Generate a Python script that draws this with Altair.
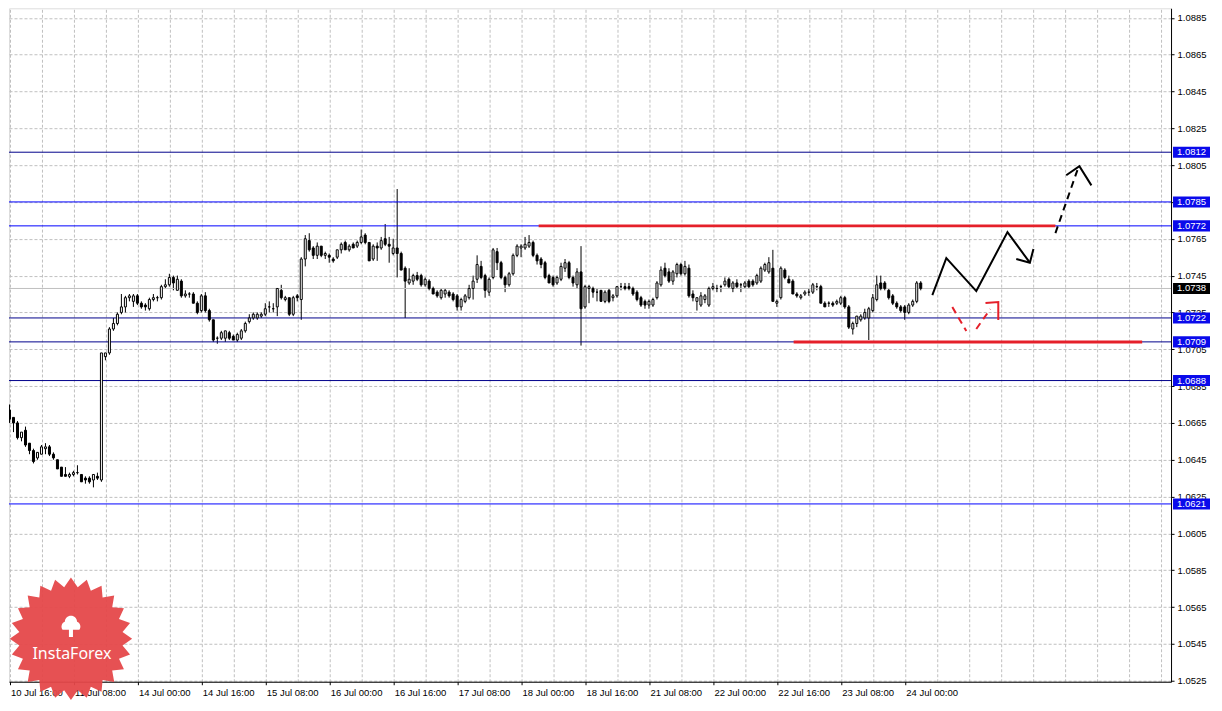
import altair as alt
import pandas as pd
import numpy as np

# ---------------- data (EURUSD H1, bar index 0 = 10 Jul 16:00) ----------------
bar_idx = list(range(-2, 229))
opens = [1.0661,1.0672,1.0672,1.0668,1.0665,1.0657,1.0661,1.0654,1.0650,1.0646,1.0648,1.0651,1.0652,1.0648,1.0645,1.0641,1.0637,1.0636,1.0637,1.0638,1.0637,1.0635,1.0635,1.0634,1.0636,1.0634,
         1.0701,1.0703,1.0716,1.0719,1.0725,1.0728,1.0733,1.0731,1.0734,1.0730,1.0729,1.0727,1.0732,1.0733,1.0733,1.0739,1.0740,1.0744,1.0737,1.0742,1.0734,1.0735,1.0735,1.0730,1.0726,1.0734,1.0726,1.0721,
         1.0711,1.0711,1.0711,1.0714,1.0712,1.0710,1.0711,1.0715,1.0720,1.0722,1.0722,1.0723,1.0724,1.0728,1.0727,1.0728,1.0737,1.0732,1.0733,1.0724,1.0734,1.0732,1.0754,1.0764,1.0760,1.0756,1.0761,1.0756,
         1.0756,1.0754,1.0755,1.0759,1.0763,1.0759,1.0762,1.0761,1.0763,1.0767,1.0763,1.0754,1.0761,1.0760,1.0765,1.0762,1.0757,1.0760,1.0757,1.0749,1.0741,1.0742,1.0745,1.0745,1.0740,1.0742,1.0738,1.0736,
         1.0733,1.0735,1.0736,1.0735,1.0734,1.0728,1.0731,1.0733,1.0738,1.0743,1.0750,1.0745,1.0736,1.0744,1.0758,1.0752,1.0744,1.0740,1.0746,1.0756,1.0760,1.0760,1.0761,1.0763,1.0756,1.0754,1.0752,1.0745,
         1.0744,1.0741,1.0743,1.0749,1.0752,1.0744,1.0740,1.0747,1.0728,1.0738,1.0738,1.0736,1.0737,1.0731,1.0737,1.0733,1.0734,1.0739,1.0739,1.0739,1.0738,1.0736,1.0733,1.0731,1.0729,1.0729,1.0733,1.0740,
         1.0749,1.0747,1.0742,1.0746,1.0751,1.0746,1.0749,1.0735,1.0731,1.0729,1.0732,1.0729,1.0738,1.0738,1.0739,1.0740,1.0743,1.0738,1.0741,1.0740,1.0739,1.0742,1.0742,1.0741,1.0742,1.0748,1.0747,1.0749,
         1.0730,1.0733,1.0748,1.0743,1.0742,1.0735,1.0733,1.0735,1.0736,1.0736,1.0739,1.0739,1.0730,1.0730,1.0730,1.0730,1.0730,1.0733,1.0728,1.0716,1.0719,1.0721,1.0722,1.0722,1.0726,1.0732,1.0741,1.0741,
         1.0737,1.0734,1.0730,1.0728,1.0728,1.0725,1.0729,1.0731,1.0741]
highs = [1.0675,1.0674,1.0675,1.0668,1.0666,1.0660,1.0663,1.0654,1.0651,1.0649,1.0653,1.0654,1.0653,1.0649,1.0645,1.0641,1.0641,1.0638,1.0639,1.0642,1.0637,1.0636,1.0636,1.0637,1.0638,1.0703,
         1.0703,1.0717,1.0722,1.0725,1.0735,1.0734,1.0735,1.0735,1.0735,1.0731,1.0730,1.0733,1.0735,1.0734,1.0740,1.0743,1.0746,1.0745,1.0745,1.0743,1.0737,1.0736,1.0736,1.0731,1.0735,1.0736,1.0727,1.0721,
         1.0712,1.0715,1.0715,1.0715,1.0713,1.0714,1.0716,1.0720,1.0724,1.0725,1.0725,1.0725,1.0730,1.0731,1.0730,1.0738,1.0740,1.0734,1.0733,1.0734,1.0735,1.0755,1.0767,1.0768,1.0761,1.0763,1.0761,1.0758,
         1.0757,1.0755,1.0759,1.0763,1.0764,1.0762,1.0763,1.0764,1.0770,1.0768,1.0763,1.0762,1.0763,1.0766,1.0773,1.0766,1.0765,1.0792,1.0758,1.0750,1.0749,1.0746,1.0747,1.0746,1.0744,1.0743,1.0739,1.0737,
         1.0738,1.0738,1.0737,1.0736,1.0735,1.0733,1.0735,1.0740,1.0745,1.0756,1.0753,1.0746,1.0744,1.0760,1.0760,1.0753,1.0745,1.0747,1.0757,1.0762,1.0762,1.0766,1.0767,1.0764,1.0757,1.0755,1.0753,1.0746,
         1.0745,1.0745,1.0752,1.0754,1.0753,1.0745,1.0749,1.0761,1.0740,1.0740,1.0739,1.0738,1.0737,1.0737,1.0738,1.0735,1.0739,1.0741,1.0741,1.0741,1.0739,1.0737,1.0734,1.0732,1.0732,1.0733,1.0742,1.0750,
         1.0752,1.0749,1.0748,1.0752,1.0752,1.0753,1.0751,1.0737,1.0733,1.0736,1.0735,1.0739,1.0741,1.0740,1.0740,1.0744,1.0744,1.0742,1.0743,1.0741,1.0742,1.0743,1.0743,1.0746,1.0750,1.0752,1.0755,1.0759,
         1.0732,1.0750,1.0749,1.0745,1.0743,1.0736,1.0735,1.0737,1.0738,1.0741,1.0741,1.0740,1.0731,1.0731,1.0731,1.0732,1.0734,1.0734,1.0729,1.0720,1.0723,1.0724,1.0727,1.0728,1.0735,1.0745,1.0745,1.0742,
         1.0738,1.0735,1.0731,1.0729,1.0729,1.0730,1.0732,1.0742,1.0742]
lows = [1.0660,1.0665,1.0665,1.0660,1.0656,1.0655,1.0652,1.0648,1.0643,1.0645,1.0648,1.0648,1.0647,1.0645,1.0640,1.0636,1.0636,1.0635,1.0636,1.0637,1.0633,1.0632,1.0632,1.0630,1.0634,1.0633,
        1.0699,1.0702,1.0715,1.0718,1.0724,1.0725,1.0731,1.0728,1.0729,1.0727,1.0726,1.0726,1.0731,1.0731,1.0732,1.0738,1.0739,1.0737,1.0737,1.0733,1.0733,1.0733,1.0730,1.0724,1.0725,1.0725,1.0720,1.0709,
        1.0708,1.0710,1.0709,1.0710,1.0710,1.0709,1.0710,1.0714,1.0719,1.0721,1.0721,1.0722,1.0723,1.0725,1.0725,1.0723,1.0732,1.0731,1.0723,1.0723,1.0731,1.0721,1.0750,1.0758,1.0754,1.0754,1.0755,1.0754,
        1.0752,1.0752,1.0754,1.0757,1.0759,1.0758,1.0760,1.0760,1.0762,1.0762,1.0753,1.0753,1.0753,1.0759,1.0761,1.0752,1.0756,1.0744,1.0748,1.0722,1.0740,1.0740,1.0742,1.0739,1.0739,1.0737,1.0735,1.0733,
        1.0732,1.0733,1.0733,1.0731,1.0726,1.0726,1.0730,1.0732,1.0732,1.0741,1.0743,1.0733,1.0734,1.0743,1.0748,1.0743,1.0736,1.0739,1.0745,1.0755,1.0755,1.0759,1.0760,1.0755,1.0751,1.0749,1.0743,1.0741,
        1.0739,1.0740,1.0742,1.0747,1.0743,1.0739,1.0738,1.0707,1.0727,1.0730,1.0733,1.0731,1.0731,1.0730,1.0730,1.0731,1.0733,1.0737,1.0737,1.0737,1.0734,1.0731,1.0728,1.0727,1.0727,1.0728,1.0732,1.0739,
        1.0744,1.0741,1.0740,1.0744,1.0745,1.0745,1.0733,1.0731,1.0726,1.0728,1.0730,1.0728,1.0737,1.0736,1.0736,1.0739,1.0738,1.0736,1.0738,1.0736,1.0738,1.0738,1.0739,1.0740,1.0741,1.0747,1.0746,1.0731,
        1.0728,1.0732,1.0743,1.0741,1.0735,1.0733,1.0732,1.0734,1.0734,1.0735,1.0737,1.0730,1.0728,1.0728,1.0728,1.0729,1.0729,1.0727,1.0716,1.0713,1.0717,1.0720,1.0721,1.0710,1.0725,1.0731,1.0737,1.0737,
        1.0732,1.0729,1.0727,1.0725,1.0721,1.0724,1.0728,1.0730,1.0737]
closes = [1.0671,1.0671,1.0667,1.0665,1.0657,1.0660,1.0653,1.0650,1.0644,1.0649,1.0652,1.0652,1.0648,1.0646,1.0640,1.0636,1.0636,1.0637,1.0638,1.0638,1.0633,1.0634,1.0633,1.0637,1.0635,1.0703,
          1.0703,1.0716,1.0719,1.0724,1.0728,1.0733,1.0734,1.0734,1.0730,1.0728,1.0728,1.0732,1.0733,1.0733,1.0739,1.0740,1.0744,1.0741,1.0743,1.0734,1.0735,1.0735,1.0730,1.0725,1.0734,1.0726,1.0721,1.0710,
          1.0711,1.0714,1.0715,1.0711,1.0710,1.0713,1.0715,1.0719,1.0722,1.0724,1.0724,1.0724,1.0727,1.0728,1.0727,1.0738,1.0733,1.0733,1.0724,1.0733,1.0733,1.0754,1.0765,1.0759,1.0756,1.0761,1.0756,1.0757,
          1.0755,1.0753,1.0759,1.0762,1.0759,1.0761,1.0760,1.0763,1.0766,1.0763,1.0753,1.0761,1.0760,1.0764,1.0762,1.0761,1.0760,1.0757,1.0748,1.0742,1.0743,1.0745,1.0743,1.0740,1.0743,1.0738,1.0735,1.0734,
          1.0737,1.0737,1.0734,1.0732,1.0728,1.0732,1.0734,1.0738,1.0742,1.0751,1.0744,1.0737,1.0743,1.0759,1.0752,1.0744,1.0740,1.0746,1.0756,1.0761,1.0761,1.0762,1.0763,1.0756,1.0753,1.0751,1.0744,1.0741,
          1.0740,1.0744,1.0750,1.0752,1.0744,1.0741,1.0747,1.0727,1.0739,1.0739,1.0736,1.0736,1.0731,1.0736,1.0731,1.0734,1.0739,1.0739,1.0738,1.0738,1.0735,1.0732,1.0729,1.0729,1.0731,1.0732,1.0741,1.0748,
          1.0745,1.0742,1.0747,1.0751,1.0746,1.0750,1.0734,1.0733,1.0733,1.0734,1.0734,1.0738,1.0739,1.0738,1.0739,1.0742,1.0739,1.0741,1.0739,1.0740,1.0741,1.0739,1.0740,1.0745,1.0749,1.0751,1.0752,1.0731,
          1.0731,1.0749,1.0744,1.0741,1.0735,1.0734,1.0734,1.0736,1.0736,1.0740,1.0739,1.0730,1.0728,1.0730,1.0729,1.0731,1.0733,1.0728,1.0717,1.0719,1.0723,1.0723,1.0725,1.0727,1.0733,1.0740,1.0738,1.0738,
          1.0733,1.0730,1.0728,1.0726,1.0725,1.0729,1.0731,1.0741,1.0738]

# horizontal levels with price boxes on the axis
level_prices = [1.0812, 1.0785, 1.0772, 1.0722, 1.0709, 1.0688, 1.0621]
level_colors = ["#00008B", "#0000FF", "#0000FF", "#00008B", "#00008B", "#00008B", "#0000FF"]
bid_price = 1.0738

# thick red support / resistance segments (bar index start/end)
red_prices = [1.0772, 1.0709]
red_start = [132.4, 196.2]
red_end = [261.7, 283.4]

# forecast arrows (bar index, price)
black_solid_seg = ["z", "z", "z", "z", "z", "zh", "zh", "zh", "dh", "dh", "dh", "rh", "rh", "rh"]
black_solid_x = [230.9, 234.4, 241.9, 249.7, 255.3, 251.9, 255.3, 256.2, 264.4, 267.7, 270.7, 244.2, 247.4, 247.4]
black_solid_y = [1.07344, 1.07545, 1.07366, 1.07686, 1.07520, 1.07540, 1.07520, 1.07594, 1.07995, 1.08044, 1.07940, 1.07301, 1.07306, 1.07209]
dashed_seg = ["d", "d", "r1", "r1", "r2", "r2"]
dashed_x = [261.7, 267.2, 235.9, 239.4, 241.9, 245.4]
dashed_y = [1.07681, 1.08023, 1.07279, 1.07149, 1.07160, 1.07268]

price_ticks = [1.0525, 1.0545, 1.0565, 1.0585, 1.0605, 1.0625, 1.0645, 1.0665, 1.0685, 1.0705,
               1.0725, 1.0745, 1.0765, 1.0785, 1.0805, 1.0825, 1.0845, 1.0865, 1.0885]
date_ticks = [0, 16, 32, 48, 64, 80, 96, 112, 128, 144, 160, 176, 192, 208, 224]
date_labels = ["10 Jul 16:00", "11 Jul 08:00", "14 Jul 00:00", "14 Jul 16:00", "15 Jul 08:00",
               "16 Jul 00:00", "16 Jul 16:00", "17 Jul 08:00", "18 Jul 00:00", "18 Jul 16:00",
               "21 Jul 08:00", "22 Jul 00:00", "22 Jul 16:00", "23 Jul 08:00", "24 Jul 00:00"]
grid_ticks = list(range(0, 289, 8))

# ---------------- chart ----------------
FONT = "Liberation Sans"
W, H = 1163, 674
XDOM = [-0.125, 290.625]
YDOM = [1.052445, 1.089016]
xs = alt.Scale(domain=XDOM, nice=False, zero=False)
ys = alt.Scale(domain=YDOM, nice=False, zero=False)

candles = pd.DataFrame({"idx": bar_idx, "o": opens, "h": highs, "l": lows, "c": closes})
candles["dir"] = np.where(candles["c"] >= candles["o"], "up", "down")

yaxis = alt.Axis(orient="right", values=price_ticks, format=".4f", title=None, grid=True,
                 gridColor="#C0C0C0", gridDash=[3, 2], gridWidth=1, tickSize=3, tickColor="black",
                 domainColor="black", labelPadding=3, labelFont=FONT, labelFontSize=9.5,
                 labelColor="black", labelBaseline="middle", labelFlush=False)
grid_xaxis = alt.Axis(orient="top", values=grid_ticks, labels=False, ticks=False, domain=False,
                      grid=True, gridColor="#C0C0C0", gridDash=[3, 2], title=None)
label_xaxis = alt.Axis(orient="bottom", values=date_ticks, grid=False, title=None,
                       labelExpr="[" + ",".join("'%s'" % s for s in date_labels) + "][round(datum.value/16)]",
                       labelAlign="left", labelOffset=1, labelPadding=3, tickSize=3, tickColor="black",
                       domainColor="black", labelFont=FONT, labelFontSize=9.5, labelColor="black",
                       labelOverlap=False, labelFlush=False)

base = alt.Chart(candles)

wicks = base.mark_rule(color="black", strokeWidth=1, clip=True).encode(
    x=alt.X("idx:Q", scale=xs, axis=grid_xaxis),
    y=alt.Y("l:Q", scale=ys, axis=yaxis),
    y2="h:Q",
)
bodies = base.transform_calculate(
    xl="datum.idx - 0.25", xr="datum.idx + 0.25"
).mark_rect(stroke="black", strokeWidth=1, clip=True).encode(
    x=alt.X("xl:Q", scale=xs, axis=label_xaxis),
    x2="xr:Q",
    y=alt.Y("o:Q", scale=ys, axis=yaxis),
    y2="c:Q",
    fill=alt.Fill("dir:N", scale=alt.Scale(domain=["up", "down"], range=["white", "black"]), legend=None),
)

levels_df = pd.DataFrame({"p": level_prices, "col": level_colors,
                          "lab": ["%.4f" % v for v in level_prices]})
levels_df["top"] = levels_df["p"] + 0.00030
levels_df["bot"] = levels_df["p"] - 0.00030
level_lines = alt.Chart(levels_df).mark_rule(strokeWidth=1).encode(
    y=alt.Y("p:Q", scale=ys, axis=yaxis), color=alt.Color("col:N", scale=None))

bid_df = pd.DataFrame({"p": [bid_price], "lab": ["%.4f" % bid_price]})
bid_df["top"] = bid_df["p"] + 0.00030
bid_df["bot"] = bid_df["p"] - 0.00030
bid_line = alt.Chart(bid_df).mark_rule(strokeWidth=1, color="#C0C0C0").encode(
    y=alt.Y("p:Q", scale=ys, axis=yaxis))

red_df = pd.DataFrame({"p": red_prices, "s": red_start, "e": red_end})
red_lines = alt.Chart(red_df).mark_rule(strokeWidth=3, color="#E5202A").encode(
    x=alt.X("s:Q", scale=xs, axis=None), x2="e:Q", y=alt.Y("p:Q", scale=ys, axis=yaxis))

solid_df = pd.DataFrame({"seg": black_solid_seg, "x": black_solid_x, "y": black_solid_y,
                         "k": list(range(len(black_solid_x)))})
solid_df["col"] = np.where(solid_df["seg"] == "rh", "#E5202A", "black")
solid_lines = alt.Chart(solid_df).mark_line(strokeWidth=2).encode(
    x=alt.X("x:Q", scale=xs, axis=None), y=alt.Y("y:Q", scale=ys, axis=yaxis),
    detail="seg:N", order="k:Q", color=alt.Color("col:N", scale=None))

dash_df = pd.DataFrame({"seg": dashed_seg, "x": dashed_x, "y": dashed_y, "k": list(range(len(dashed_x)))})
dash_df["col"] = np.where(dash_df["seg"] == "d", "black", "#E5202A")
dash_lines = alt.Chart(dash_df).mark_line(strokeWidth=2, strokeDash=[7, 5]).encode(
    x=alt.X("x:Q", scale=xs, axis=None), y=alt.Y("y:Q", scale=ys, axis=yaxis),
    detail="seg:N", order="k:Q", color=alt.Color("col:N", scale=None))

box_blue = alt.Chart(levels_df).mark_rect(color="#0A0AEB").encode(
    x=alt.value(W + 2), x2=alt.value(W + 39),
    y=alt.Y("top:Q", scale=ys, axis=yaxis), y2="bot:Q")
box_bid = alt.Chart(bid_df).mark_rect(color="black").encode(
    x=alt.value(W + 2), x2=alt.value(W + 39),
    y=alt.Y("top:Q", scale=ys, axis=yaxis), y2="bot:Q")
box_text = alt.Chart(pd.concat([levels_df[["p", "lab"]], bid_df[["p", "lab"]]])).mark_text(
    align="left", baseline="middle", color="white", font=FONT, fontSize=9.5).encode(
    x=alt.value(W + 6), y=alt.Y("p:Q", scale=ys, axis=yaxis), text="lab:N")

# InstaForex badge (decoration)
n = 24
ang = np.linspace(0, 2 * np.pi, 2 * n, endpoint=False) - np.pi / 2
rad = np.where(np.arange(2 * n) % 2 == 0, 1.0, 0.85)
star_path = "M" + " L".join("%.3f,%.3f" % (r * np.cos(a), r * np.sin(a)) for r, a in zip(rad, ang)) + " Z"
tree_path = ("M-0.18,1 L-0.18,0.35 L-0.75,0.35 A0.45,0.45 0 0 1 -0.55,-0.35 "
             "A0.5,0.5 0 0 1 0.55,-0.35 A0.45,0.45 0 0 1 0.75,0.35 L0.18,0.35 L0.18,1 Z")
one = pd.DataFrame({"a": [0]})
badge = alt.Chart(one).mark_point(shape=star_path, size=15000, filled=True, color="#E5484A",
                                  opacity=0.95, strokeWidth=0).encode(x=alt.value(62), y=alt.value(631))
tree = alt.Chart(one).mark_point(shape=tree_path, size=500, filled=True, color="white",
                                 opacity=1, strokeWidth=0).encode(x=alt.value(62), y=alt.value(618))
badge_text = alt.Chart(one).mark_text(text="InstaForex", color="white", font="Noto Sans",
                                      fontSize=16, align="center", baseline="middle").encode(
    x=alt.value(63), y=alt.value(646))

chart = alt.layer(
    wicks, level_lines, bid_line, bodies, red_lines, solid_lines, dash_lines,
    box_blue, box_bid, box_text, badge, tree, badge_text
).resolve_axis(x="independent").properties(
    width=W, height=H, padding={"left": 0, "top": 0, "right": 4, "bottom": 0}
).configure_view(stroke=None).configure(background="white")

chart.save("out.html", embed_options={"renderer": "svg", "actions": False})
